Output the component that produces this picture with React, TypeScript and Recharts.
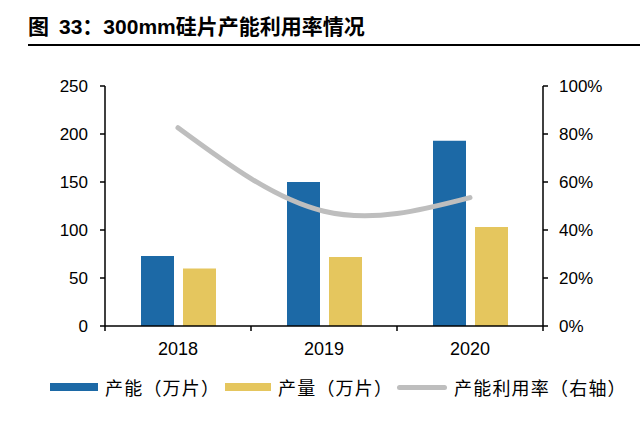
import { Bar, ComposedChart, Line, XAxis, YAxis } from "recharts";

const years = ["2018", "2019", "2020"];
const capacity = [73, 150, 193];
const output = [60, 72, 103];
const utilization = [82.6, 47.8, 53.5];
const leftTicks = [0, 50, 100, 150, 200, 250];
const rightTicks = [0, 20, 40, 60, 80, 100];

const BLUE = "#1C69A6";
const YELLOW = "#E5C65E";
const GRAY = "#BEBEBE";

const data = years.map((year, i) => ({
  year,
  capacity: capacity[i],
  output: output[i],
  utilization: utilization[i],
}));

const TICK_FONT = { fontSize: 17, fill: "#000", fontFamily: "'Liberation Sans', Arial, sans-serif" };
const CJK = "'Noto Sans CJK SC', sans-serif";

function YearTick(props: any) {
  const { x, y, payload, index, visibleTicksCount } = props;
  const off = payload?.offset ?? 0;
  const axisY = y - 16;
  const last = index === visibleTicksCount - 1;
  return (
    <g>
      <line x1={x - off} x2={x - off} y1={axisY} y2={axisY + 5} stroke="#000" strokeWidth={1.5} />
      {last && <line x1={x + off} x2={x + off} y1={axisY} y2={axisY + 5} stroke="#000" strokeWidth={1.5} />}
      <text x={x} y={y} dy="0.71em" textAnchor="middle" {...TICK_FONT} fontSize={18}>
        {payload.value}
      </text>
    </g>
  );
}

const legendItems = [
  { label: "产能（万片）", color: BLUE, left: 50, w: 48, h: 8 },
  { label: "产量（万片）", color: YELLOW, left: 225, w: 46, h: 8 },
  { label: "产能利用率（右轴）", color: GRAY, left: 397, w: 50, h: 5, round: true },
];

export default function App() {
  return (
    <div style={{ position: "absolute", left: 0, top: 0, width: 640, height: 431, background: "#fff" }}>
      <div
        style={{
          position: "absolute",
          left: 28,
          top: 10,
          fontSize: 21,
          fontWeight: 700,
          lineHeight: "30px",
          fontFamily: `'Liberation Sans', Arial, ${CJK}`,
          color: "#000",
          whiteSpace: "nowrap",
        }}
      >
        <span style={{ fontFamily: CJK, marginRight: 10 }}>图</span>33<span style={{ fontFamily: CJK }}>：</span>300mm
        <span style={{ fontFamily: CJK }}>硅片产能利用率情况</span>
      </div>
      <div style={{ position: "absolute", left: 28, right: 0, top: 44, height: 2, background: "#000" }} />

      <ComposedChart
        width={640}
        height={431}
        data={data}
        margin={{ top: 86, right: 37, bottom: 75, left: 45 }}
        barGap={9}
      >
        <XAxis
          dataKey="year"
          height={30}
          axisLine={{ stroke: "#000", strokeWidth: 1.5 }}
          tickLine={false}
          tickSize={5}
          tickMargin={11}
          tick={<YearTick />}
          interval={0}
        />
        <YAxis
          yAxisId="left"
          width={60}
          domain={[0, 250]}
          ticks={leftTicks}
          axisLine={{ stroke: "#000", strokeWidth: 1.5 }}
          tickLine={{ stroke: "#000", strokeWidth: 1.5 }}
          tickSize={5}
          tickMargin={12}
          tick={TICK_FONT}
        />
        <YAxis
          yAxisId="right"
          orientation="right"
          width={60}
          domain={[0, 100]}
          ticks={rightTicks}
          tickFormatter={(v) => `${v}%`}
          axisLine={{ stroke: "#000", strokeWidth: 1.5 }}
          tickLine={{ stroke: "#000", strokeWidth: 1.5 }}
          tickSize={5}
          tickMargin={11}
          tick={TICK_FONT}
        />
        <Bar yAxisId="left" dataKey="capacity" fill={BLUE} barSize={33} isAnimationActive={false} />
        <Bar yAxisId="left" dataKey="output" fill={YELLOW} barSize={33} isAnimationActive={false} />
        <Line
          yAxisId="right"
          type="natural"
          dataKey="utilization"
          stroke={GRAY}
          strokeWidth={5}
          strokeLinecap="round"
          dot={false}
          activeDot={false}
          isAnimationActive={false}
        />
      </ComposedChart>

      {legendItems.map((it) => (
        <div
          key={it.label}
          style={{
            position: "absolute",
            left: it.left,
            top: 374,
            height: 26,
            display: "flex",
            alignItems: "center",
            fontFamily: CJK,
            fontSize: 18,
            letterSpacing: 1.2,
            color: "#000",
            whiteSpace: "nowrap",
          }}
        >
          <span
            style={{
              display: "inline-block",
              width: it.w,
              height: it.h,
              background: it.color,
              borderRadius: it.round ? 3 : 0,
              marginRight: 7,
            }}
          />
          {it.label}
        </div>
      ))}
    </div>
  );
}
